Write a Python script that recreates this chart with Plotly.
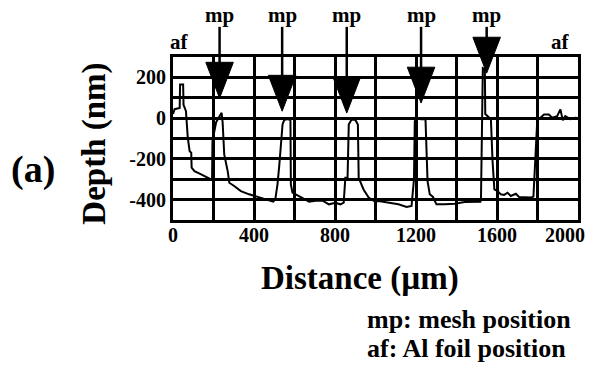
import plotly.graph_objects as go

# Depth profile (Distance in µm, Depth in nm)
dist = [0, 8, 33, 35, 50, 52, 64, 66, 73, 82, 90, 92, 106, 139, 165, 188, 193, 195, 213, 230, 240, 245, 247, 253,
        270, 278, 302, 335, 376, 417, 466, 495, 505, 516, 525, 533, 541, 549, 565, 580, 582, 590, 606, 639, 672,
        704, 737, 770, 802, 827, 843, 851, 862, 868, 881, 900, 913, 917, 941, 966, 998, 1015, 1064, 1113, 1154,
        1178, 1190, 1194, 1203, 1225, 1243, 1247, 1257, 1268, 1284, 1301, 1342, 1391, 1440, 1505, 1518, 1521,
        1530, 1540, 1542, 1562, 1570, 1578, 1587, 1603, 1619, 1635, 1652, 1668, 1693, 1709, 1766, 1780, 1799,
        1815, 1832, 1856, 1872, 1897, 1913, 1925, 1937, 1962, 1987, 2000]
depth = [20, 44, 50, 165, 165, 65, 34, -15, -96, -162, -170, -243, -260, -276, -290, -301, -296, -110, -20, 10, 26,
         -20, -70, -178, -260, -317, -333, -358, -374, -387, -404, -410, -400, -325, -230, -129, -31, -10, -5, -10,
         -325, -366, -374, -390, -410, -405, -404, -423, -415, -423, -415, -293, -293, -31, -8, -8, -31, -293, -350,
         -390, -410, -407, -415, -423, -436, -431, -300, -15, 2, -5, -5, -10, -309, -374, -387, -423, -423, -420,
         -412, -410, -410, -390, 245, 240, 20, 2, -10, -211, -350, -358, -374, -377, -366, -382, -371, -387, -390,
         -385, -7, 2, 18, 18, 2, 10, 43, -10, 10, -5, 2, 0]

# mesh position markers (arrow x, arrow tip depth)
mp_x = [230, 539, 858, 1225, 1549]
mp_tip = [98, 34, 25, 74, 221]
af_x = [34, 1912]

x_ticks = list(range(0, 2001, 200))
x_labels = [str(v) if (v % 400 == 0 and v < 2000) else "" for v in x_ticks]
x_last_label = "2000"
y_ticks = list(range(-500, 301, 100))
y_labels = [str(v) if v in (-400, -200, 0, 200) else "" for v in y_ticks]

YMIN, YMAX = -500, 300
FONT = "Liberation Serif, Times New Roman, Times, serif"

fig = go.Figure()
fig.add_trace(go.Scatter(x=dist, y=depth, mode="lines",
                         line=dict(color="black", width=2), showlegend=False))

def ypaper(v):
    return (v - YMIN) / (YMAX - YMIN)

def bold(s):
    return f"<b>{s}</b>"

tri_h = 0.22      # paper units
tri_hw = 68       # data units (half width)
shapes = []
annotations = []
for xm, tip in zip(mp_x, mp_tip):
    yt = ypaper(tip)
    shapes.append(dict(type="line", xref="x", yref="paper", x0=xm, x1=xm, y0=1.185, y1=yt + tri_h / 2,
                       line=dict(color="black", width=2.5)))
    path = f"M {xm - tri_hw},{yt + tri_h} L {xm + tri_hw},{yt + tri_h} L {xm},{yt} Z"
    shapes.append(dict(type="path", xref="x", yref="paper", path=path,
                       fillcolor="black", line=dict(color="black", width=1)))
    annotations.append(dict(x=xm, y=1.258, xref="x", yref="paper", text=bold("mp"), showarrow=False,
                            font=dict(family=FONT, size=21, color="black"),
                            xanchor="center", yanchor="middle"))
for xa in af_x:
    annotations.append(dict(x=xa, y=1.09, xref="x", yref="paper", text=bold("af"), showarrow=False,
                            font=dict(family=FONT, size=21, color="black"),
                            xanchor="center", yanchor="middle"))

annotations += [
    dict(x=1.022, y=-0.09, xref="paper", yref="paper", text=bold(x_last_label), showarrow=False,
         font=dict(family=FONT, size=20, color="black"), xanchor="right", yanchor="middle"),
    dict(x=0.461, y=-0.356, xref="paper", yref="paper", text=bold("Distance (µm)"), showarrow=False,
         font=dict(family=FONT, size=33, color="black"), xanchor="center", yanchor="middle"),
    dict(x=-0.196, y=0.466, xref="paper", yref="paper", text=bold("Depth (nm)"), showarrow=False, textangle=-90,
         font=dict(family=FONT, size=33, color="black"), xanchor="center", yanchor="middle"),
    dict(x=-0.346, y=0.307, xref="paper", yref="paper", text=bold("(a)"), showarrow=False,
         font=dict(family=FONT, size=38, color="black"), xanchor="center", yanchor="middle"),
    dict(x=0.475, y=-0.613, xref="paper", yref="paper", text=bold("mp: mesh position"), showarrow=False,
         font=dict(family=FONT, size=26, color="black"), xanchor="left", yanchor="middle"),
    dict(x=0.475, y=-0.79, xref="paper", yref="paper", text=bold("af: Al foil position"), showarrow=False,
         font=dict(family=FONT, size=26, color="black"), xanchor="left", yanchor="middle"),
]

axis_common = dict(showgrid=True, gridcolor="black", gridwidth=2.5, showline=True, linecolor="black",
                   linewidth=3, mirror=True, ticks="", zeroline=False,
                   tickfont=dict(family=FONT, size=20, color="black", weight="bold"))

fig.update_layout(
    width=592, height=366,
    margin=dict(l=173, r=11, t=57, b=146),
    paper_bgcolor="white", plot_bgcolor="white",
    xaxis=dict(range=[0, 2000], tickvals=x_ticks, ticktext=x_labels, ticklabelstandoff=-5, **axis_common),
    yaxis=dict(range=[YMIN, YMAX], tickvals=y_ticks, ticktext=y_labels, **axis_common),
    shapes=shapes, annotations=annotations,
)

fig.write_html("out.html")
